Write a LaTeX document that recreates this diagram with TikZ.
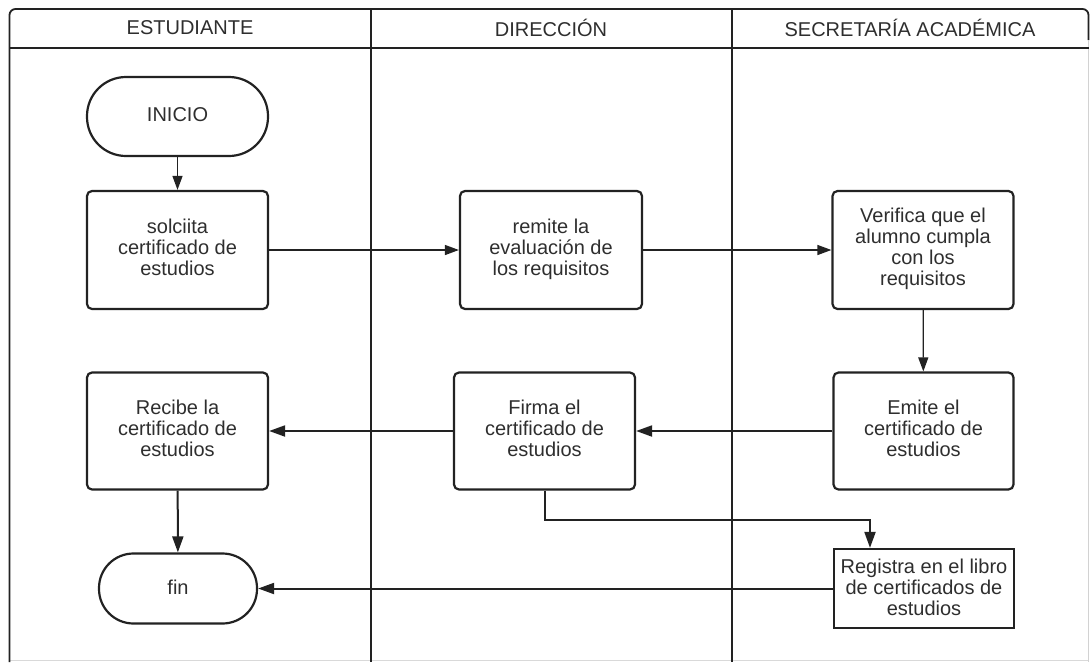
\documentclass[tikz,border=0pt]{standalone}
\usepackage{fontspec}
\setmainfont{Liberation Sans}
\usetikzlibrary{arrows.meta}
\definecolor{ink}{HTML}{222222}
\definecolor{txt}{HTML}{2E2E2E}
\begin{document}
\begin{tikzpicture}[x=1pt,y=-1pt,
  every node/.style={font=\fontsize{20}{21}\selectfont, text=txt, align=center, inner sep=0pt},
  procbox/.style={draw=ink, line width=2.2pt, rounded corners=5pt, minimum width=181pt, minimum height=118pt, text depth=6pt},
  plainbox/.style={draw=ink, line width=2.2pt, minimum width=180pt, minimum height=79pt, text depth=3pt},
  terminal/.style={draw=ink, line width=2.2pt, minimum width=#1, text depth=3pt},
  lane/.style={draw=ink, line width=1.8pt},
  flow/.style={draw=ink, line width=1.3pt, -{Triangle[length=14pt,width=10pt]}},
  flowthick/.style={draw=ink, line width=2pt, -{Triangle[length=16pt,width=11pt]}}
]
\useasboundingbox (0,0) rectangle (1090,662);
% frame and lanes
\draw[gray!30, line width=1pt] (9.5,660.5) -- (1088.5,660.5);
\draw[lane, rounded corners=6pt] (9.5,662) -- (9.5,9) -- (1088.5,9) -- (1088.5,40);
\draw[gray!35, line width=1pt] (1088.5,40) -- (1088.5,662);
\draw[lane] (9.5,48) -- (1089,48);
\draw[lane] (371,9) -- (371,662);
\draw[lane] (732,9) -- (732,662);
% headers
\node (h1) at (190,28) {ESTUDIANTE};
\node (h2) at (551,28) {DIRECCIÓN};
\node (h3) at (910,28) {SECRETARÍA ACADÉMICA};
% nodes
\node[terminal=181pt, minimum height=79pt, rounded corners=39pt] (ini) at (177.5,116.5) {INICIO};
\node[procbox] (sol) at (177.5,250) {solciita\\certificado de\\estudios};
\node[procbox, minimum width=182pt] (rem) at (551,250) {remite la\\evaluación de\\los requisitos};
\node[procbox] (ver) at (923,250) {Verifica que el\\alumno cumpla\\con los\\requisitos};
\node[procbox, minimum width=180pt, minimum height=117pt] (emi) at (923.5,431) {Emite el\\certificado de\\estudios};
\node[procbox, minimum height=117pt] (fir) at (544.5,431) {Firma el\\certificado de\\estudios};
\node[procbox, minimum height=117pt] (rec) at (177.5,431) {Recibe la\\certificado de\\estudios};
\node[terminal=158pt, minimum height=70pt, rounded corners=34.5pt] (fin) at (178,588.5) {fin};
\node[plainbox] (reg) at (924,588.5) {Registra en el libro\\de certificados de\\estudios};
% connectors
\draw[flow] (ini) -- (sol);
\draw[flow] (sol) -- (rem);
\draw[flow] (rem) -- (ver);
\draw[flow] (ver) -- (emi);
\draw[flowthick] (emi) -- (fir);
\draw[flowthick] (fir) -- (rec);
\draw[flowthick] (rec) -- (fin);
\coordinate (bend) at (870,520);
\draw[flowthick] (fir.south) |- (bend) -- (bend |- reg.north);
\draw[flowthick] (reg) -- (fin);
\end{tikzpicture}
\end{document}
